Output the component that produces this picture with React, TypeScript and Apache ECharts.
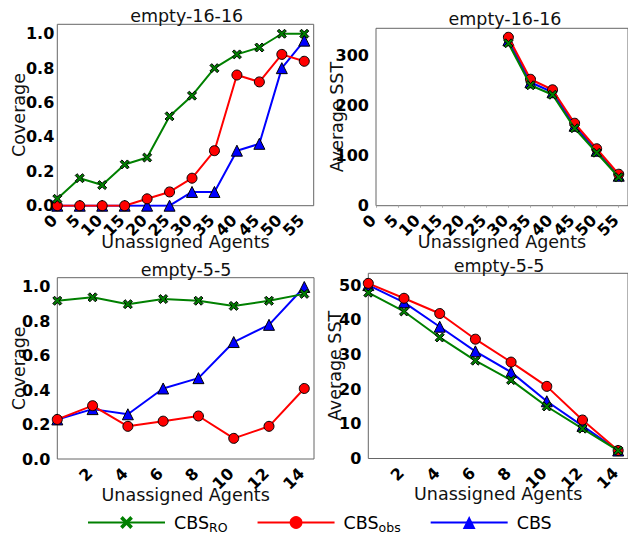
import React, { useEffect, useRef } from 'react';
import * as echarts from 'echarts';

const FONT = 'DejaVu Sans';
const legendNames = ['CBS_RO', 'CBS_obs', 'CBS'];

// empty-16-16 coverage
const x16 = [0, 5, 10, 15, 20, 25, 30, 35, 40, 45, 50, 55];
const cov16RO = [0.04, 0.16, 0.12, 0.24, 0.28, 0.52, 0.64, 0.8, 0.88, 0.92, 1.0, 1.0];
const cov16Obs = [0, 0, 0, 0, 0.04, 0.08, 0.16, 0.32, 0.76, 0.72, 0.88, 0.84];
const cov16CBS = [0, 0, 0, 0, 0, 0, 0.08, 0.08, 0.32, 0.36, 0.8, 0.96];

// empty-16-16 average SST
const x16sst = [30, 35, 40, 45, 50, 55];
const sst16RO = [325, 241, 222, 155, 106, 57];
const sst16Obs = [337, 253, 232, 165, 114, 63];
const sst16CBS = [331, 247, 227, 160, 110, 60];

// empty-5-5 coverage
const x5 = [0, 2, 4, 6, 8, 10, 12, 14];
const cov5RO = [0.92, 0.94, 0.9, 0.93, 0.92, 0.89, 0.92, 0.96];
const cov5Obs = [0.23, 0.31, 0.19, 0.22, 0.25, 0.12, 0.19, 0.41];
const cov5CBS = [0.23, 0.29, 0.26, 0.41, 0.47, 0.68, 0.78, 1.0];

// empty-5-5 average SST
const sst5RO = [47.8, 42.4, 34.9, 28.2, 22.6, 15.0, 8.6, 2.3];
const sst5Obs = [50.5, 46.2, 41.8, 34.4, 27.8, 20.8, 11.1, 2.3];
const sst5CBS = [50.0, 45.0, 38.0, 30.9, 24.9, 16.5, 9.4, 2.3];

const titles = ['empty-16-16', 'empty-16-16', 'empty-5-5', 'empty-5-5'];
const xName = 'Unassigned Agents';
const yNames = ['Coverage', 'Average SST', 'Coverage', 'Average SST'];

const X_SYMBOL = 'path://M0,2L2,0L5,3L8,0L10,2L7,5L10,8L8,10L5,7L2,10L0,8L3,5Z';
const GREEN = '#008000';
const RED = '#ff0000';
const BLUE = '#0000ff';

function mk(name: string, idx: number, xs: number[], ys: number[], color: string, symbol: string, size: number, z: number) {
  return {
    type: 'line',
    name,
    xAxisIndex: idx,
    yAxisIndex: idx,
    data: xs.map((x, i) => [x, ys[i]]),
    symbol,
    symbolSize: size,
    showAllSymbol: true,
    lineStyle: { color, width: 2 },
    itemStyle: { color, borderColor: '#000', borderWidth: 1 },
    emphasis: { disabled: true },
    z,
    clip: true,
  };
}

const isMult = (v: number, step: number) => Math.abs(v / step - Math.round(v / step)) < 1e-6;

function xAxisCfg(idx: number, max: number, interval: number, hideZero: boolean, nameGap: number, ticks: boolean) {
  return {
    type: 'value',
    gridIndex: idx,
    min: 0,
    max,
    interval,
    name: xName,
    nameLocation: 'middle',
    nameGap,
    nameMoveOverlap: false,
    nameTextStyle: { fontFamily: FONT, fontSize: 17.5, color: '#111' },
    axisLine: { show: false },
    axisTick: { show: ticks, length: 2, lineStyle: { color: '#aaa' } },
    splitLine: { show: false },
    axisLabel: {
      rotate: 45,
      margin: 9,
      padding: [0, 4, 4, 0],
      fontFamily: FONT,
      fontSize: 16,
      fontWeight: 'bold',
      color: '#000',
      showMaxLabel: false,
      formatter: (v: number) => (isMult(v, interval) && !(hideZero && v === 0) ? String(v) : ''),
    },
  };
}

function yAxisCfg(idx: number, max: number, interval: number, decimals: number, nameGap: number, margin: number) {
  return {
    type: 'value',
    gridIndex: idx,
    min: 0,
    max,
    interval,
    name: yNames[idx],
    nameLocation: 'middle',
    nameGap,
    nameMoveOverlap: false,
    nameTextStyle: { fontFamily: FONT, fontSize: 17.5, color: '#111' },
    axisLine: { show: false },
    axisTick: { show: false },
    splitLine: { show: false },
    axisLabel: {
      margin,
      fontFamily: FONT,
      fontSize: 16,
      fontWeight: 'bold',
      color: '#000',
      showMaxLabel: false,
      formatter: (v: number) => (isMult(v, interval) ? v.toFixed(decimals) : ''),
    },
  };
}

const gridStyle = { show: true, borderColor: '#666', borderWidth: 1, backgroundColor: 'transparent' };

const titlePos = [
  [186.7, 16],
  [505, 19],
  [186, 270],
  [499, 266],
];

export default function App() {
  const ref = useRef<HTMLDivElement>(null);
  useEffect(() => {
    if (!ref.current) return;
    const chart = echarts.init(ref.current, null, { renderer: 'svg' });
    const option = {
      animation: false,
      backgroundColor: '#fff',
      textStyle: { fontFamily: FONT },
      grid: [
        { left: 57.3, top: 24.3, width: 256.4, height: 181.4, ...gridStyle },
        { left: 376, top: 28.3, width: 259.9, height: 177.4, ...gridStyle },
        { left: 57.3, top: 277.7, width: 256.7, height: 181.3, ...gridStyle },
        { left: 368.3, top: 273.3, width: 260, height: 185.2, ...gridStyle },
      ],
      xAxis: [
        xAxisCfg(0, 57.1, 5, false, 27, false),
        xAxisCfg(1, 57.1, 5, false, 27, true),
        xAxisCfg(2, 14.55, 2, true, 27, false),
        xAxisCfg(3, 14.55, 2, true, 26, false),
      ],
      yAxis: [
        yAxisCfg(0, 1.055, 0.2, 1, 29, 3),
        yAxisCfg(1, 355, 100, 0, 30, 7),
        yAxisCfg(2, 1.054, 0.2, 1, 29, 7),
        yAxisCfg(3, 53.4, 10, 0, 24, 7),
      ],
      legend: {
        data: legendNames,
        left: 87,
        top: 511.5,
        padding: 0,
        itemWidth: 77,
        itemHeight: 16,
        itemGap: 29,
        itemStyle: { borderWidth: 0 },
        textStyle: {
          fontFamily: FONT,
          fontSize: 17.5,
          color: '#000',
          lineHeight: 22,
          padding: [0, 0, 0, 4],
          rich: {
            sub: { fontFamily: FONT, fontSize: 12.5, color: '#000', lineHeight: 14, verticalAlign: 'bottom' },
          },
        },
        formatter: (n: string) => (n === 'CBS_RO' ? 'CBS{sub|RO}' : n === 'CBS_obs' ? 'CBS{sub|obs}' : 'CBS'),
      },
      graphic: titles.map((t, i) => ({
        type: 'text',
        x: titlePos[i][0],
        y: titlePos[i][1],
        style: { text: t, fontFamily: FONT, fontSize: 17.5, fill: '#111', align: 'center', verticalAlign: 'middle' },
      })),
      series: [
        mk('CBS', 0, x16, cov16CBS, BLUE, 'triangle', 11, 2),
        mk('CBS_obs', 0, x16, cov16Obs, RED, 'circle', 10, 3),
        mk('CBS_RO', 0, x16, cov16RO, GREEN, X_SYMBOL, 9, 4),
        mk('CBS', 1, x16sst, sst16CBS, BLUE, 'triangle', 11, 2),
        mk('CBS_obs', 1, x16sst, sst16Obs, RED, 'circle', 10, 3),
        mk('CBS_RO', 1, x16sst, sst16RO, GREEN, X_SYMBOL, 9, 4),
        mk('CBS', 2, x5, cov5CBS, BLUE, 'triangle', 11, 2),
        mk('CBS_obs', 2, x5, cov5Obs, RED, 'circle', 10, 3),
        mk('CBS_RO', 2, x5, cov5RO, GREEN, X_SYMBOL, 9, 4),
        mk('CBS', 3, x5, sst5CBS, BLUE, 'triangle', 11, 2),
        mk('CBS_obs', 3, x5, sst5Obs, RED, 'circle', 10, 3),
        mk('CBS_RO', 3, x5, sst5RO, GREEN, X_SYMBOL, 9, 4),
      ],
    };
    chart.setOption(option as any);
    return () => chart.dispose();
  }, []);
  return <div ref={ref} style={{ position: 'fixed', left: 0, top: 0, width: 628, height: 535, background: '#fff' }} />;
}
